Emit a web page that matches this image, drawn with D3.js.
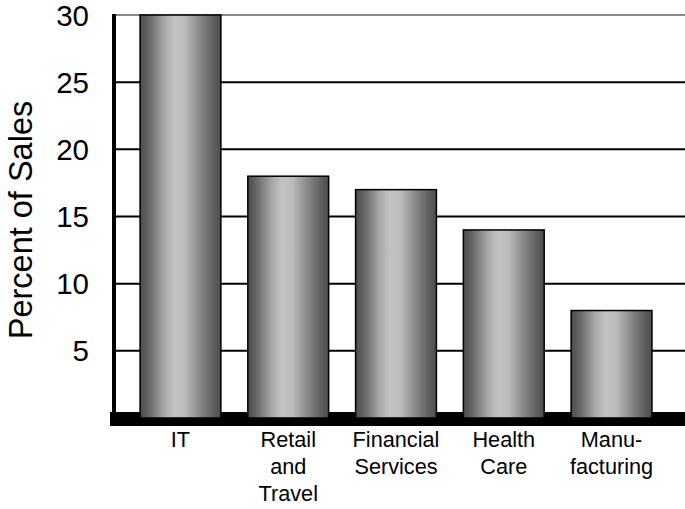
<!DOCTYPE html>
<html>
<head>
<meta charset="utf-8">
<script src="https://cdn.jsdelivr.net/npm/d3@7"></script>
<style>
  body { margin: 0; background: #fff; }
  text { font-family: "Liberation Sans", Arial, Helvetica, sans-serif; }
</style>
</head>
<body>
<div id="chart"></div>
<script>
// values
const categories = ["IT", "Retail and Travel", "Financial Services", "Health Care", "Manufacturing"];
const catLines = [["IT"], ["Retail", "and", "Travel"], ["Financial", "Services"], ["Health", "Care"], ["Manu-", "facturing"]];
const percent = [30, 18, 17, 14, 8];
const yTicks = [5, 10, 15, 20, 25, 30];

const W = 685, H = 509;
const svg = d3.select("#chart").append("svg")
    .attr("width", W).attr("height", H);

// gradient for the cylinder look
const grad = svg.append("defs").append("linearGradient")
    .attr("id", "cyl").attr("x1", "0%").attr("x2", "100%").attr("y1", "0%").attr("y2", "0%");
[[0, "#4c4c4c"], [0.12, "#6a6a6a"], [0.3, "#a8a8a8"], [0.42, "#c2c2c2"], [0.55, "#bcbcbc"], [0.72, "#8e8e8e"], [0.88, "#666"], [1, "#4c4c4c"]]
  .forEach(s => grad.append("stop").attr("offset", s[0]).attr("stop-color", s[1]));

const y = d3.scaleLinear().domain([0, 30]).range([418, 15]);
const x = d3.scaleBand().domain(categories)
    .range([126.6, 665.4]).paddingInner(0.25).paddingOuter(0.125);

// gridlines
svg.append("g").selectAll("line").data(yTicks).join("line")
    .attr("x1", 114).attr("x2", W)
    .attr("y1", d => y(d)).attr("y2", d => y(d))
    .attr("stroke", d => d === 30 ? "#888" : "#000")
    .attr("stroke-width", 2);

// tick labels
svg.append("g").selectAll("text").data(yTicks).join("text")
    .attr("x", 89).attr("y", d => y(d))
    .attr("dy", "0.36em")
    .attr("text-anchor", "end")
    .attr("font-size", 29.5)
    .text(d => d);

// left axis
svg.append("rect").attr("x", 112).attr("y", 14).attr("width", 4).attr("height", 400).attr("fill", "#000");

// floor
svg.append("rect").attr("x", 110).attr("y", 412).attr("width", W - 110).attr("height", 14).attr("fill", "#000");

// bars
svg.append("g").selectAll("rect").data(percent).join("rect")
    .attr("x", (d, i) => x(categories[i]))
    .attr("y", d => y(d))
    .attr("width", x.bandwidth())
    .attr("height", d => y(0) - y(d))
    .attr("fill", "url(#cyl)")
    .attr("stroke", "#000")
    .attr("stroke-width", 1.5);

// category labels
const lab = svg.append("g").selectAll("text").data(catLines).join("text")
    .attr("text-anchor", "middle")
    .attr("font-size", 21.7)
    .attr("transform", (d, i) => `translate(${x(categories[i]) + x.bandwidth() / 2},447)`);
lab.selectAll("tspan").data(d => d).join("tspan")
    .attr("x", 0).attr("y", (d, i) => i * 27)
    .text(d => d);

// y title
svg.append("text")
    .attr("transform", "translate(32,220) rotate(-90)")
    .attr("text-anchor", "middle")
    .attr("font-size", 32.5)
    .text("Percent of Sales");
</script>
</body>
</html>
